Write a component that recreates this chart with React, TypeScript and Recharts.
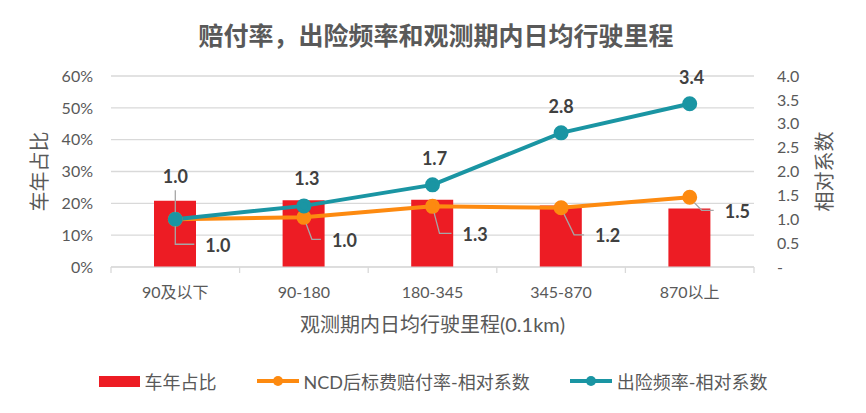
import React from "react";
import { ComposedChart, Bar, Line, XAxis, YAxis, CartesianGrid, Legend, LabelList } from "recharts";

const categories = ["90及以下", "90-180", "180-345", "345-870", "870以上"];
const carYearShare = [0.208, 0.21, 0.211, 0.193, 0.184];
const lossRatioRel = [1.0, 1.04, 1.27, 1.24, 1.46];
const claimFreqRel = [1.0, 1.28, 1.72, 2.81, 3.42];
const leftTicks = [0, 0.1, 0.2, 0.3, 0.4, 0.5, 0.6];
const rightTicks = [0, 0.5, 1, 1.5, 2, 2.5, 3, 3.5, 4];

// label placement (Excel hand-dragged labels): [dx, dy, elbowDx]
const lossLabelPos = [[30, 26, 0], [28, 23, 8], [30, 28, 7], [34, 28, 13], [35, 14, 12]];
const freqLabelPos = [[0, -43], [3, -27], [2, -26], [0, -26], [2, -26]];

const RED = "#ED1C24";
const ORANGE = "#FD8A10";
const TEAL = "#1A95A3";
const GRID = "#d9d9d9";
const TXT = "#595959";
const LBL = "#404040";
const FONT = "Lato, 'Noto Sans CJK SC', sans-serif";

const W = 866, H = 413;
const M = { top: 76, right: 0, bottom: 41, left: 0 };
const LEFT_W = 111, RIGHT_W = 112;
const BAND = (W - LEFT_W - RIGHT_W) / categories.length;
const X_MARGIN = 20;

const data = categories.map((cat, i) => ({
  cat,
  share: carYearShare[i],
  loss: lossRatioRel[i],
  freq: claimFreqRel[i],
}));

function XTick(props: any) {
  const { x, y, payload, index } = props;
  const ay = y - X_MARGIN;
  return (
    <g>
      <line x1={x - BAND / 2} x2={x - BAND / 2} y1={ay} y2={ay + 6} stroke={GRID} strokeWidth={1.3} />
      {index === categories.length - 1 && (
        <line x1={x + BAND / 2} x2={x + BAND / 2} y1={ay} y2={ay + 6} stroke={GRID} strokeWidth={1.3} />
      )}
      <text x={x} y={y} dy="0.71em" textAnchor="middle" fill={TXT} fontSize={16}>{payload.value}</text>
    </g>
  );
}

function AxisTitle(props: any) {
  const { viewBox, value, at } = props;
  const cx = viewBox.x + at;
  const cy = viewBox.y + viewBox.height / 2;
  return (
    <text x={cx} y={cy} transform={`rotate(-90 ${cx} ${cy})`} textAnchor="middle" dy="0.35em" fill={TXT} fontSize={20}>
      {value}
    </text>
  );
}

function XTitle(props: any) {
  const { viewBox } = props;
  return (
    <text x={viewBox.x + viewBox.width / 2} y={viewBox.y + 58} textAnchor="middle" dy="0.35em" fill={TXT} fontSize={20}>
      观测期内日均行驶里程(0.1km)
    </text>
  );
}

function LossLabel(props: any) {
  const { x, y, value, index } = props;
  const [dx, dy, ex] = lossLabelPos[index];
  const len = Math.hypot(ex, dy);
  const sx = x + (ex / len) * 7;
  const sy = y + (dy / len) * 7;
  return (
    <g>
      <polyline points={`${sx},${sy} ${x + ex},${y + dy - 1} ${x + dx - 11},${y + dy - 1}`} fill="none" stroke="#a6a6a6" strokeWidth={1.3} />
      <text x={x + dx} y={y + dy} dy="0.35em" fill={LBL} fontSize={18} fontWeight="bold">{Number(value).toFixed(1)}</text>
    </g>
  );
}

function FreqLabel(props: any) {
  const { x, y, value, index } = props;
  const [dx, dy] = freqLabelPos[index];
  return (
    <g>
      {index === 0 && <line x1={x} x2={x} y1={y - 7} y2={y + dy + 14} stroke="#a6a6a6" strokeWidth={1.3} />}
      <text x={x + dx} y={y + dy} dy="0.35em" textAnchor="middle" fill={LBL} fontSize={18} fontWeight="bold">{Number(value).toFixed(1)}</text>
    </g>
  );
}

function LegendBox() {
  const item = { display: "flex", alignItems: "center", gap: 5 } as const;
  const lineIcon = (c: string) => (
    <svg width={42} height={14}>
      <line x1={0} x2={42} y1={7} y2={7} stroke={c} strokeWidth={4} />
      <circle cx={21} cy={7} r={5} fill={c} />
    </svg>
  );
  return (
    <div style={{ height: 30, display: "flex", justifyContent: "center", alignItems: "center", gap: 40, fontSize: 18, color: TXT }}>
      <div style={item}><div style={{ width: 41, height: 11, background: RED }} /><span>车年占比</span></div>
      <div style={item}>{lineIcon(ORANGE)}<span>NCD后标费赔付率-相对系数</span></div>
      <div style={item}>{lineIcon(TEAL)}<span>出险频率-相对系数</span></div>
    </div>
  );
}

export default function App() {
  return (
    <div style={{ position: "absolute", left: 0, top: 0, width: W, height: H, background: "#fff", fontFamily: FONT }}>
      <div style={{ position: "absolute", top: 16, left: 3, width: W, textAlign: "center", fontSize: 25, fontWeight: "bold", color: TXT }}>
        赔付率，出险频率和观测期内日均行驶里程
      </div>
      <ComposedChart width={W} height={H} data={data} margin={M}>
        <CartesianGrid yAxisId="left" vertical={false} stroke={GRID} strokeWidth={1.3} />
        <XAxis
          dataKey="cat"
          height={75}
          stroke={GRID}
          tickLine={false}
          tickSize={0}
          tickMargin={X_MARGIN}
          tick={<XTick />}
          label={<XTitle />}
        />
        <YAxis
          yAxisId="left"
          width={LEFT_W}
          domain={[0, 0.6]}
          ticks={leftTicks}
          axisLine={false}
          tickLine={false}
          tickSize={0}
          tickMargin={18}
          tick={{ fill: TXT, fontSize: 16 }}
          tickFormatter={(v: number) => `${Math.round(v * 100)}%`}
          label={<AxisTitle value="车年占比" at={40} />}
        />
        <YAxis
          yAxisId="right"
          orientation="right"
          width={RIGHT_W}
          domain={[0, 4]}
          ticks={rightTicks}
          axisLine={false}
          tickLine={false}
          tickSize={0}
          tickMargin={23}
          tick={{ fill: TXT, fontSize: 16 }}
          tickFormatter={(v: number) => (v === 0 ? "-" : v.toFixed(1))}
          label={<AxisTitle value="相对系数" at={71} />}
        />
        <Legend verticalAlign="bottom" content={<LegendBox />} wrapperStyle={{ top: 366, left: 0, bottom: "auto", width: W }} />
        <Bar yAxisId="left" dataKey="share" name="车年占比" fill={RED} barSize={42} isAnimationActive={false} />
        <Line
          yAxisId="right"
          dataKey="loss"
          name="NCD后标费赔付率-相对系数"
          stroke={ORANGE}
          strokeWidth={4}
          dot={{ r: 5.5, fill: ORANGE, stroke: ORANGE }}
          activeDot={false}
          isAnimationActive={false}
        >
          <LabelList dataKey="loss" content={<LossLabel />} />
        </Line>
        <Line
          yAxisId="right"
          dataKey="freq"
          name="出险频率-相对系数"
          stroke={TEAL}
          strokeWidth={4}
          dot={{ r: 5.5, fill: TEAL, stroke: TEAL }}
          activeDot={false}
          isAnimationActive={false}
        >
          <LabelList dataKey="freq" content={<FreqLabel />} />
        </Line>
      </ComposedChart>
    </div>
  );
}
